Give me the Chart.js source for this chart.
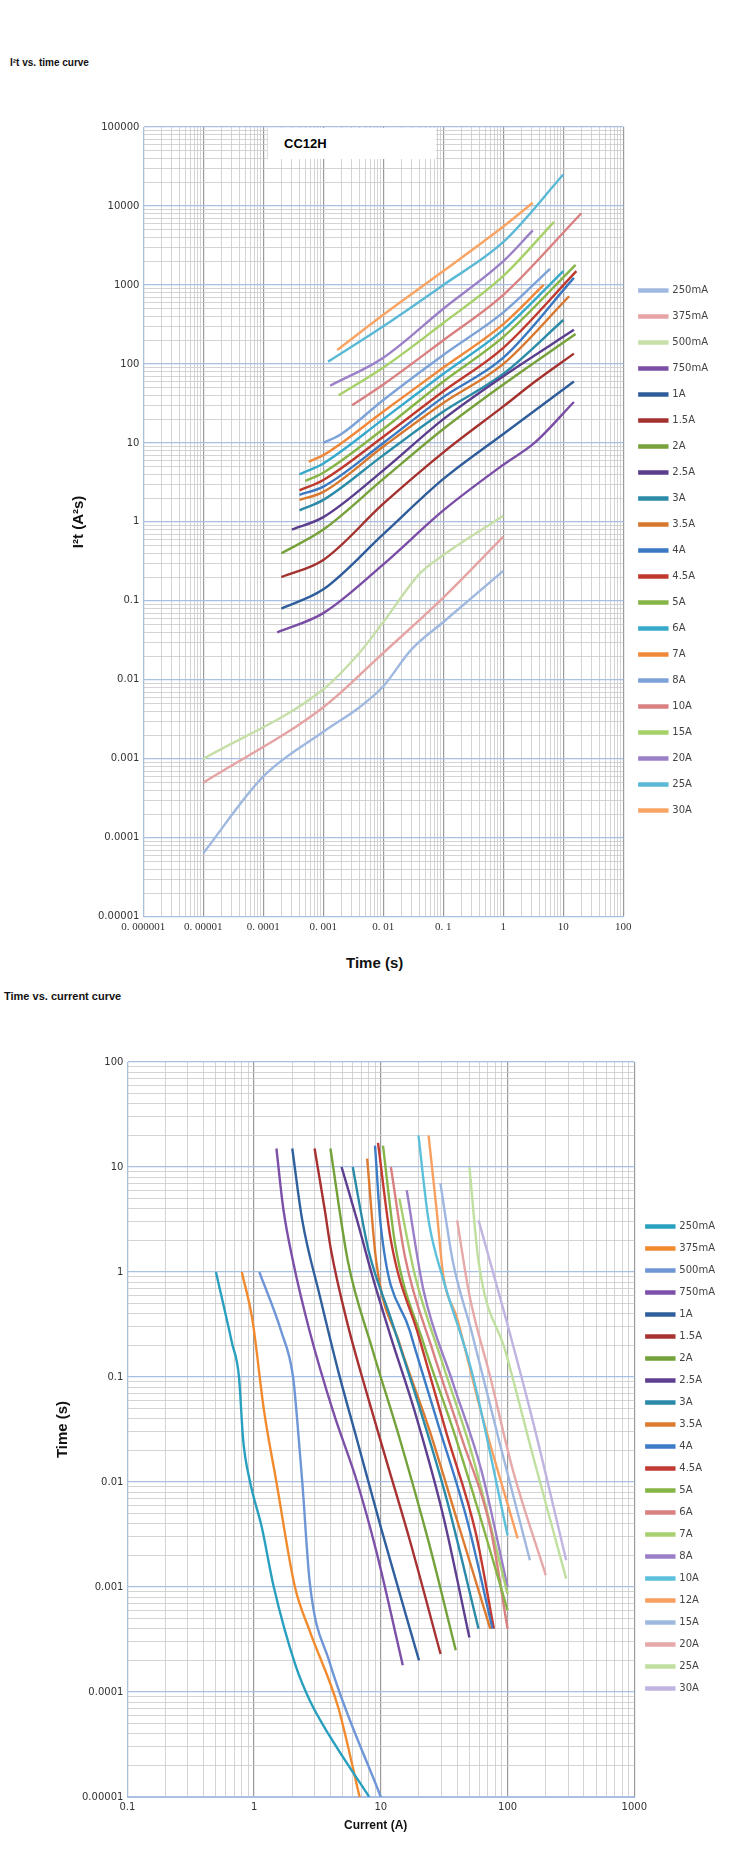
<!DOCTYPE html>
<html>
<head>
<meta charset="utf-8">
<script src="https://cdn.jsdelivr.net/npm/chart.js@4"></script>
<style>
body{margin:0;background:#fff;width:750px;height:1852px;position:relative;font-family:"Liberation Sans",Arial,sans-serif;overflow:hidden}
.t{position:absolute;font-weight:bold;color:#111}
.box{position:absolute}
#tag{position:absolute;left:267px;top:128px;width:169px;height:31px;background:#fff;border-left:1px solid #ddd;font:bold 13px "Liberation Sans",Arial;line-height:31px;padding-left:16px;box-sizing:border-box}
</style>
</head>
<body>
<div class="t" style="left:10px;top:57px;font-size:10px">I²t vs. time curve</div>
<div class="box" style="left:0;top:112px;width:750px;height:836px"><canvas id="c1"></canvas></div>
<div id="tag">CC12H</div>
<div class="t" style="left:346px;top:954px;font-size:15px">Time (s)</div>
<div class="t" style="left:4px;top:990px;font-size:11px">Time vs. current curve</div>
<div class="box" style="left:0;top:1047px;width:750px;height:780px"><canvas id="c2"></canvas></div>
<div class="t" style="left:344px;top:1818px;font-size:12px">Current (A)</div>
<script>
// ---- I2t vs time ----
const i2tLabels = ['250mA','375mA','500mA','750mA','1A','1.5A','2A','2.5A','3A','3.5A','4A','4.5A','5A','6A','7A','8A','10A','15A','20A','25A','30A'];
const i2tColors = ['#9fb8e0','#e6a3a3','#c6dfa8','#7a4ea6','#2f5c9a','#a5312f','#77a13a','#5a3d8c','#2c8ca8','#d8782e','#3a78c2','#c0392f','#86b446','#37aacb','#f0883a','#7da2d8','#da8080','#a6d068','#9b80c8','#5ab9d6','#f9a463'];
// [time s, I2t A2s]
const i2tValues = [
  [[1e-5,6.4e-5],[1e-4,0.0006],[1e-3,0.0022],[0.004,0.0045],[0.01,0.0083],[0.029,0.024],[0.1,0.054],[1,0.24]],
  [[1e-5,0.0005],[1e-3,0.0045],[0.01,0.022],[0.1,0.11],[1,0.65]],
  [[1e-5,0.001],[1e-3,0.0076],[0.004,0.022],[0.01,0.054],[0.04,0.22],[0.1,0.38],[1,1.2]],
  [[0.00017,0.04],[0.001,0.07],[0.01,0.29],[0.1,1.4],[1,5.3],[3.3,10],[15,33]],
  [[0.0002,0.08],[0.001,0.14],[0.01,0.7],[0.1,3.5],[1,13],[15,60]],
  [[0.0002,0.2],[0.001,0.33],[0.01,1.7],[0.1,7.6],[1,29],[3.3,59],[15,135]],
  [[0.0002,0.4],[0.001,0.8],[0.01,3.5],[0.1,15],[1,55],[16,240]],
  [[0.0003,0.8],[0.001,1.15],[0.01,4.5],[0.1,20],[1,70],[15,270]],
  [[0.0004,1.4],[0.001,1.9],[0.01,7],[0.1,25],[1,75],[10,360]],
  [[0.0004,1.9],[0.001,2.4],[0.01,9],[0.1,32],[1,100],[12.5,720]],
  [[0.0004,2.2],[0.001,2.8],[0.01,10],[0.1,38],[1,120],[15,1230]],
  [[0.0004,2.5],[0.001,3.4],[0.01,12],[0.1,45],[1,160],[16.5,1500]],
  [[0.0005,3.3],[0.001,4.2],[0.01,15],[0.1,60],[1,220],[16,1800]],
  [[0.0004,4],[0.001,5.5],[0.01,20],[0.1,75],[1,270],[10,1500]],
  [[0.00057,5.8],[0.001,7],[0.01,25],[0.1,90],[1,320],[4.7,1000]],
  [[0.001,10],[0.002,13],[0.01,35],[0.1,130],[1,450],[6,1600]],
  [[0.003,30],[0.01,55],[0.1,200],[1,750],[20,8100]],
  [[0.0018,40],[0.01,90],[0.1,330],[1,1300],[7,6300]],
  [[0.0013,53],[0.01,120],[0.1,500],[1,2000],[3.1,4900]],
  [[0.0012,107],[0.01,300],[0.1,1000],[1,3500],[10,25000]],
  [[0.0017,150],[0.01,420],[0.1,1500],[1,5500],[3.1,11000]]
];
const i2tXTicks = ['0. 000001','0. 00001','0. 0001','0. 001','0. 01','0. 1','1','10','100'];
const i2tYTicks = ['0.00001','0.0001','0.001','0.01','0.1','1','10','100','1000','10000','100000'];

// ---- time vs current ----
const tcLabels = ['250mA','375mA','500mA','750mA','1A','1.5A','2A','2.5A','3A','3.5A','4A','4.5A','5A','6A','7A','8A','10A','12A','15A','20A','25A','30A'];
const tcColors = ['#2aa0c0','#f28a2e','#6f96d6','#7c4fa8','#2f5f9c','#a83232','#74a23a','#5e3f90','#2a8aa8','#dc7a30','#3c7cc6','#c23a32','#86b446','#d98080','#a8d070','#9a7fc8','#5cc0dc','#f9a060','#9fb8e0','#e6a8a8','#c0e0a0','#c0b4e0'];
// [current A, time s]
const tcValues = [
  [[0.5,1],[0.67,0.21],[0.76,0.1],[0.82,0.025],[0.93,0.01],[1.15,0.0037],[1.43,0.001],[2.12,0.00018],[2.75,0.000083],[3.9,0.000039],[8.1,0.00001]],
  [[0.8,1],[0.97,0.35],[1.2,0.047],[1.5,0.01],[2.1,0.001],[2.75,0.00038],[4.6,0.000072],[6.8,0.00001]],
  [[1.1,1],[1.64,0.27],[2.03,0.1],[2.2,0.036],[2.4,0.01],[2.75,0.0011],[3.9,0.0002],[10,0.00001]],
  [[1.5,15],[1.7,4],[2.03,1.26],[2.75,0.27],[4.2,0.047],[6.5,0.01],[9.2,0.0022],[14.9,0.00018]],
  [[2,15],[2.4,3.1],[3.3,0.59],[4.6,0.115],[6.5,0.025],[10,0.0037],[20,0.0002]],
  [[3,15],[3.6,4],[4.05,1.6],[5.5,0.31],[7.8,0.068],[10.9,0.017],[16.9,0.0028],[29.6,0.00023]],
  [[4,15],[5.5,1.26],[8.5,0.19],[14.2,0.025],[24,0.0026],[39,0.00025]],
  [[4.9,10],[6.5,3.1],[8.5,0.95],[12,0.24],[18.5,0.047],[31,0.0048],[50,0.00033]],
  [[6,10],[8,1.6],[12,0.36],[20,0.053],[33,0.0069],[59,0.0004]],
  [[7.8,12],[9.2,1.26],[14,0.21],[24,0.032],[40,0.0043],[73,0.0004]],
  [[9,16],[10,2.7],[17,0.27],[28,0.037],[48,0.0043],[76,0.0004]],
  [[9.5,17],[12,2],[20,0.24],[33,0.029],[56,0.0033],[78,0.0004]],
  [[10.4,16],[13,1.8],[21.7,0.21],[37,0.032],[62,0.0043],[100,0.0006]],
  [[12,10],[15.5,1.4],[26,0.17],[44,0.025],[73,0.0037],[100,0.0004]],
  [[14,5],[18.5,0.95],[31,0.13],[52,0.019],[100,0.00086]],
  [[16,6],[21.7,0.67],[37,0.088],[62,0.013],[100,0.001]],
  [[19.8,20],[23.8,3.1],[31,0.86],[52,0.114],[100,0.0031]],
  [[23.8,20],[27.8,3.5],[31,0.95],[40,0.36],[60,0.053],[120,0.0029]],
  [[29.5,7],[37,1.26],[52,0.27],[87,0.023],[150,0.0018]],
  [[40,3.1],[50,0.6],[73,0.1],[110,0.013],[200,0.0013]],
  [[50,10],[59,1.26],[97,0.17],[160,0.017],[290,0.0012]],
  [[59,3.1],[97,0.36],[160,0.036],[290,0.0018]]
];
const tcXTicks = ['0.1','1','10','100','1000'];
const tcYTicks = ['0.00001','0.0001','0.001','0.01','0.1','1','10','100'];

function logTicks(minExp, maxExp) {
  const out = [];
  for (let e = minExp; e < maxExp; e++)
    for (let s = 1; s < 10; s++) out.push({ value: s * Math.pow(10, e) });
  out.push({ value: Math.pow(10, maxExp) });
  return out;
}
const isDecade = v => Math.abs(Math.log10(v) - Math.round(Math.log10(v))) < 1e-6;

function logAxis(minExp, maxExp, labels, font, horiz, title) {
  return {
    type: 'logarithmic',
    min: Math.pow(10, minExp), max: Math.pow(10, maxExp),
    afterBuildTicks: s => { s.ticks = logTicks(minExp, maxExp); },
    ticks: {
      autoSkip: false, maxRotation: 0, color: '#333', font: font, padding: 4,
      callback: v => isDecade(v) ? labels[Math.round(Math.log10(v)) - minExp] : ''
    },
    grid: {
      color: c => (isDecade(c.tick.value) ? (horiz ? '#a9c0e2' : '#9a9a9a') : '#c9c9c9'),
      lineWidth: c => (isDecade(c.tick.value) ? 1.2 : 0.8),
      drawTicks: false
    },
    border: { color: '#a9c0e2' },
    title: title ? { display: true, text: title, font: { family: 'Liberation Sans', size: 15, weight: 'bold' }, color: '#111', padding: 6 } : { display: false }
  };
}

function datasets(labels, colors, values) {
  return labels.map((l, i) => ({
    label: l,
    data: values[i].map(p => ({ x: p[0], y: p[1] })),
    borderColor: colors[i], backgroundColor: colors[i],
    borderWidth: 2.4, pointRadius: 0, cubicInterpolationMode: 'monotone'
  }));
}

function legendCfg(pad, shift) {
  return {
    position: 'right',
    title: { display: true, text: ' ', padding: shift, font: { size: 10 } },
    labels: { boxWidth: 28, boxHeight: 2, padding: pad, color: '#444', font: { family: 'DejaVu Sans', size: 10 } }
  };
}

// widen the legend box so there is a gap between plot and legend
function widenLegend(chart, extra) {
  const lg = chart.legend;
  const fit = lg.fit;
  lg.fit = function () { fit.call(this); this.width += extra; };
  chart.update();
}

const ch1 = new Chart(document.getElementById('c1'), {
  type: 'line',
  data: { datasets: datasets(i2tLabels, i2tColors, i2tValues) },
  options: {
    responsive: true, maintainAspectRatio: false, animation: false,
    layout: { padding: { left: 64, top: 15, right: 10, bottom: 10 } },
    scales: {
      x: logAxis(-6, 2, i2tXTicks, { family: 'Liberation Serif', size: 11 }, false, null),
      y: logAxis(-5, 5, i2tYTicks, { family: 'DejaVu Sans', size: 10 }, true, 'I²t (A²s)')
    },
    plugins: { legend: legendCfg(16, 12), tooltip: { enabled: false } }
  }
});
widenLegend(ch1, 22);

const ch2 = new Chart(document.getElementById('c2'), {
  type: 'line',
  data: { datasets: datasets(tcLabels, tcColors, tcValues) },
  options: {
    responsive: true, maintainAspectRatio: false, animation: false,
    layout: { padding: { left: 48, top: 15, right: 10, bottom: 10 } },
    scales: {
      x: logAxis(-1, 3, tcXTicks, { family: 'DejaVu Sans', size: 10 }, false, null),
      y: logAxis(-5, 2, tcYTicks, { family: 'DejaVu Sans', size: 10 }, true, 'Time (s)')
    },
    plugins: { legend: legendCfg(12, 12), tooltip: { enabled: false } }
  }
});
widenLegend(ch2, 15);
</script>
</body>
</html>
